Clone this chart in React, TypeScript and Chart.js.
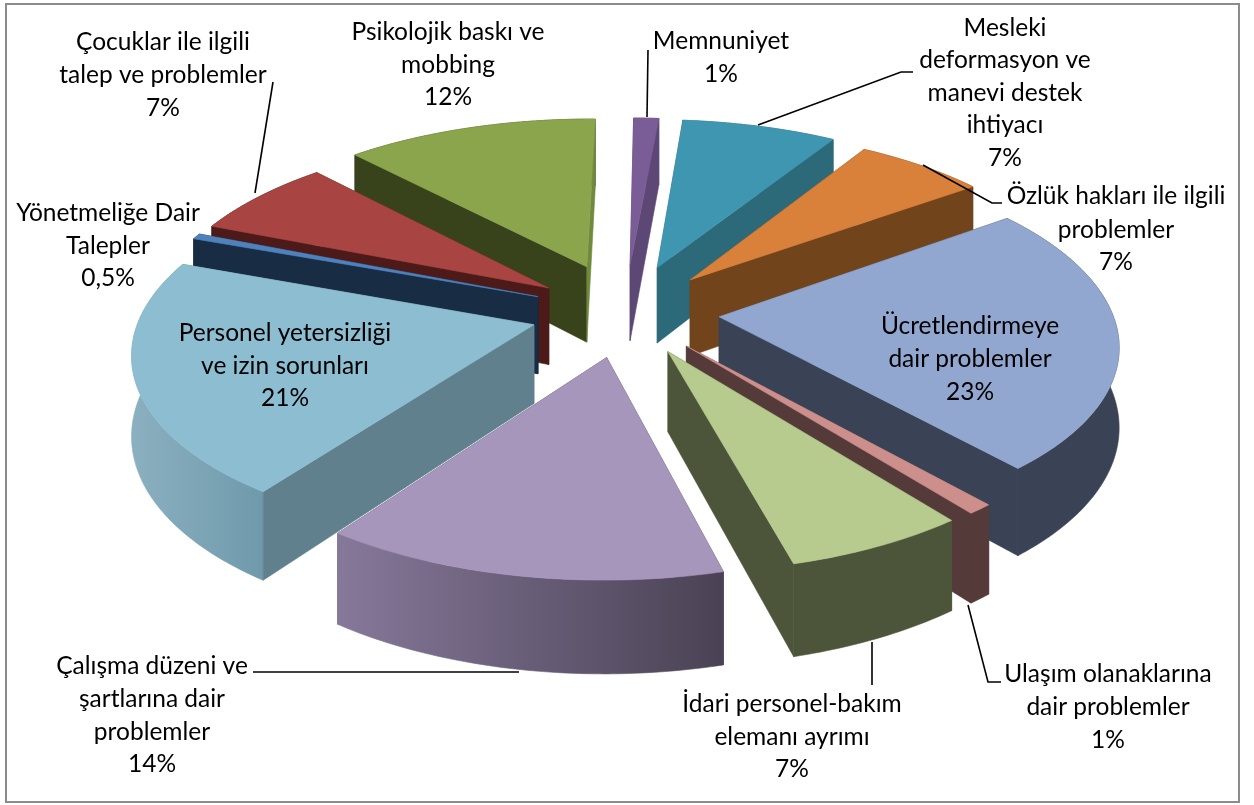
import React, { useEffect, useRef } from "react";
import { Chart, registerables } from "chart.js";

Chart.register(...registerables);

const categories = [
  "Memnuniyet",
  "Mesleki deformasyon ve manevi destek ihtiyacı",
  "Özlük hakları ile ilgili problemler",
  "Ücretlendirmeye dair problemler",
  "Ulaşım olanaklarına dair problemler",
  "İdari personel-bakım elemanı ayrımı",
  "Çalışma düzeni ve şartlarına dair problemler",
  "Personel yetersizliği ve izin sorunları",
  "Yönetmeliğe Dair Talepler",
  "Çocuklar ile ilgili talep ve problemler",
  "Psikolojik baskı ve mobbing",
];
// slice sizes; the printed labels round them
const values = [1.2, 7.4, 6.2, 23.7, 0.9, 6.4, 14, 20.8, 0.5, 7, 12.1];
const valueLabels = ["1%", "7%", "7%", "23%", "1%", "7%", "14%", "21%", "0,5%", "7%", "12%"];

const topColors = ["#7a5c96", "#3f96b0", "#d9803a", "#92a7cf", "#cd8f8c", "#b8cb8f", "#a796bb", "#8dbdd1", "#4f81bd", "#a84442", "#8aa54c"];
const cutStartColors = ["#5c4775", "#2c6a7a", "#71441c", "#3a4256", "#553a3a", "#4c553a", "#4a4254", "#5f808c", "#182c44", "#4c1a18", "#38431c"];
const cutEndColors = ["#5c4775", "#2c6a7a", "#71441c", "#3a4256", "#553a3a", "#4c553a", "#4a4254", "#5f808c", "#182c44", "#4c1a18", "#6f8a3d"];
const wallStartColors = ["#5c4775", "#2c6a7a", "#71441c", "#3a4256", "#553a3a", "#4c553a", "#86789a", "#8bb0c0", "#182c44", "#4c1a18", "#38431c"];
const wallEndColors = ["#5c4775", "#2c6a7a", "#71441c", "#3a4256", "#553a3a", "#4c553a", "#4a4254", "#6f9aac", "#182c44", "#4c1a18", "#38431c"];

// explosion of every slice, in hundredths of the pie radius
const explosions = [27, 27, 25, 24, 24, 24, 25, 24, 24, 24, 28];

// text blocks: centre x and the vertical middle of each line
const labelLayout = [
  { x: 721, ys: [41, 74], lines: ["Memnuniyet"] },
  { x: 1005, ys: [28, 60, 93, 125, 158], lines: ["Mesleki", "deformasyon ve", "manevi destek", "ihtiyacı"] },
  { x: 1116, ys: [196, 230, 262], lines: ["Özlük hakları ile ilgili", "problemler"] },
  { x: 970, ys: [326, 359, 392], lines: ["Ücretlendirmeye", "dair problemler"] },
  { x: 1108, ys: [674, 707, 740], lines: ["Ulaşım olanaklarına", "dair problemler"] },
  { x: 792, ys: [704, 737, 769], lines: ["İdari personel-bakım", "elemanı ayrımı"] },
  { x: 152, ys: [666, 699, 732, 764], lines: ["Çalışma düzeni ve", "şartlarına dair", "problemler"] },
  { x: 285, ys: [333, 366, 398], lines: ["Personel yetersizliği", "ve izin sorunları"] },
  { x: 108, ys: [213, 246, 278], lines: ["Yönetmeliğe Dair", "Talepler"] },
  { x: 163, ys: [42, 75, 108], lines: ["Çocuklar ile ilgili", "talep ve problemler"] },
  { x: 448, ys: [32, 65, 97], lines: ["Psikolojik baskı ve", "mobbing"] },
];

const leaderLines = [
  [[648, 50], [647, 117]],
  [[913, 72], [901, 72], [758, 125]],
  [[923, 165], [992, 203], [1002, 203]],
  [[968, 605], [988, 682], [1001, 682]],
  [[872, 642], [872, 685]],
  [[253, 672], [519, 672]],
  [[273, 82], [255, 193]],
];

const RX = 393;
const RY = 179;
const PERSPECTIVE = 0.135;
const DEPTH = 78;

const pie3d = {
  id: "pie3d",
  beforeDatasetsDraw(chart: any) {
    const ctx = chart.ctx;
    const arcs: any[] = chart.getDatasetMeta(0).data;
    const order = arcs
      .map((arc, i) => ({ arc, i, key: Math.sin((arc.startAngle + arc.endAngle) / 2) }))
      .sort((a, b) => a.key - b.key);

    ctx.save();
    ctx.lineWidth = 0.6;
    ctx.lineJoin = "round";
    for (const { arc, i } of order) {
      const mid = (arc.startAngle + arc.endAngle) / 2;
      const e = arc.options.offset / 100;
      const ox = e * Math.cos(mid);
      const oy = e * Math.sin(mid);
      const project = (angle: number | null, h: number) => {
        const u = ox + (angle === null ? 0 : Math.cos(angle));
        const v = oy + (angle === null ? 0 : Math.sin(angle));
        const s = 1 / (1 - PERSPECTIVE * v);
        return [arc.x + RX * u * s, arc.y + RY * v * s + h * DEPTH * s];
      };
      const steps = Math.max(2, Math.ceil((arc.endAngle - arc.startAngle) / 0.015));
      const angles: number[] = [];
      for (let k = 0; k <= steps; k++) angles.push(arc.startAngle + ((arc.endAngle - arc.startAngle) * k) / steps);

      const fillPath = (pts: number[][], fill: any) => {
        ctx.beginPath();
        pts.forEach((p, n) => (n ? ctx.lineTo(p[0], p[1]) : ctx.moveTo(p[0], p[1])));
        ctx.closePath();
        ctx.fillStyle = fill;
        ctx.strokeStyle = fill;
        ctx.fill();
        ctx.stroke();
      };

      const drawStartCut = () =>
        fillPath(
          [project(null, 0), project(arc.startAngle, 0), project(arc.startAngle, 1), project(null, 1)],
          cutStartColors[i]
        );
      const drawEndCut = () =>
        fillPath(
          [project(null, 0), project(arc.endAngle, 0), project(arc.endAngle, 1), project(null, 1)],
          cutEndColors[i]
        );
      const startVisible = Math.cos(arc.startAngle) < 0;
      const endVisible = Math.cos(arc.endAngle) > 0;

      if (!startVisible) drawStartCut();
      if (!endVisible) drawEndCut();

      const wallTop = angles.map((a) => project(a, 0));
      const wallBottom = angles.map((a) => project(a, 1)).reverse();
      const xs = wallTop.map((p) => p[0]);
      const gradient = ctx.createLinearGradient(Math.min(...xs), 0, Math.max(...xs), 0);
      const startIsLeft = wallTop[0][0] < wallTop[wallTop.length - 1][0];
      gradient.addColorStop(0, startIsLeft ? wallEndColors[i] : wallStartColors[i]);
      gradient.addColorStop(1, startIsLeft ? wallStartColors[i] : wallEndColors[i]);
      fillPath([...wallTop, ...wallBottom], gradient);

      if (startVisible) drawStartCut();
      if (endVisible) drawEndCut();

      fillPath([project(null, 0), ...wallTop], arc.options.backgroundColor);
    }
    ctx.restore();
    return false;
  },
  afterDraw(chart: any) {
    const ctx = chart.ctx;
    ctx.save();
    ctx.strokeStyle = "#8c8c8c";
    ctx.lineWidth = 2;
    ctx.strokeRect(6, 4, 1233, 798);

    ctx.strokeStyle = "#000000";
    ctx.lineWidth = 1.6;
    for (const line of leaderLines) {
      ctx.beginPath();
      line.forEach((p, n) => (n ? ctx.lineTo(p[0], p[1]) : ctx.moveTo(p[0], p[1])));
      ctx.stroke();
    }

    ctx.fillStyle = "#000000";
    ctx.font = "24.5px Lato";
    ctx.textAlign = "center";
    ctx.textBaseline = "middle";
    labelLayout.forEach((block, i) => {
      const rows = [...block.lines, valueLabels[i]];
      rows.forEach((row, r) => ctx.fillText(row, block.x, block.ys[r]));
    });
    ctx.restore();
  },
};

export default function App() {
  const ref = useRef<HTMLCanvasElement>(null);
  useEffect(() => {
    const chart = new Chart(ref.current as HTMLCanvasElement, {
      type: "pie",
      data: {
        labels: categories,
        datasets: [{ data: values, backgroundColor: topColors, offset: explosions, borderWidth: 0 }],
      },
      options: {
        animation: false,
        responsive: false,
        rotation: 0.7,
        layout: { padding: { right: 4, bottom: 181 } },
        plugins: { legend: { display: false }, tooltip: { enabled: false } },
      },
      plugins: [pie3d],
    } as any);
    return () => chart.destroy();
  }, []);
  return (
    <canvas
      ref={ref}
      width={1254}
      height={805}
      style={{ position: "absolute", left: 0, top: 0, width: 1254, height: 805, background: "#ffffff" }}
    />
  );
}
